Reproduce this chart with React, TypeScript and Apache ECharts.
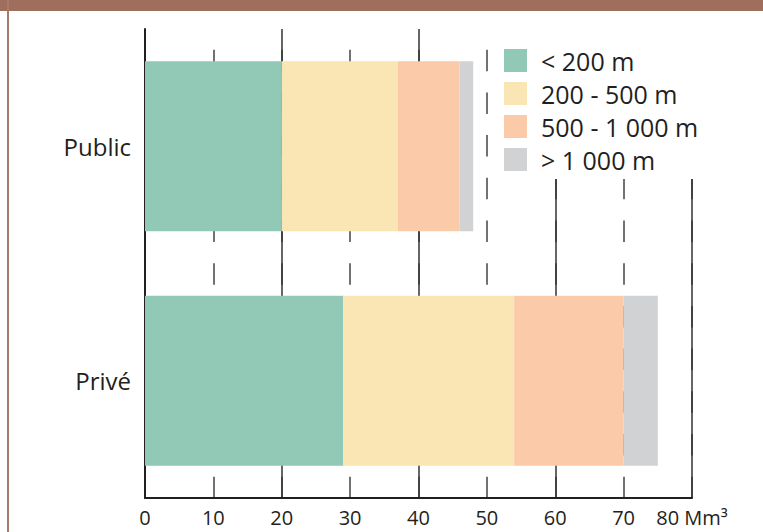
import React, { useEffect, useRef } from "react";
import * as echarts from "echarts";

const categories = ["Public", "Privé"];
const seriesNames = ["< 200 m", "200 - 500 m", "500 - 1 000 m", "> 1 000 m"];
const lt200 = [20, 29];
const s200to500 = [17, 25];
const s500to1000 = [9, 16];
const gt1000 = [2, 5];
const colors = ["#91C9B6", "#FAE6B4", "#FBCAA8", "#D1D2D4"];
const FONT = "'Open Sans', 'Noto Sans', sans-serif";

export default function App() {
  const ref = useRef<HTMLDivElement>(null);
  useEffect(() => {
    if (!ref.current) return;
    const chart = echarts.init(ref.current, null, { renderer: "svg" });
    const values = [lt200, s200to500, s500to1000, gt1000];
    chart.setOption({
      animation: false,
      backgroundColor: "#ffffff",
      textStyle: { fontFamily: FONT },
      grid: { left: 145, right: 71, top: 29, bottom: 34, containLabel: false },
      graphic: [
        { type: "rect", left: 0, top: 0, shape: { width: 763, height: 11 }, style: { fill: "#A06E5C" }, z: 10 },
        { type: "rect", left: 7, top: 0, shape: { width: 2, height: 532 }, style: { fill: "#A87A68" }, z: 10 },
      ],
      legend: {
        orient: "vertical",
        left: 495,
        top: 29,
        padding: [19, 10, 7, 9],
        backgroundColor: "#ffffff",
        itemWidth: 23,
        itemHeight: 23,
        itemGap: 8,
        icon: "rect",
        data: seriesNames,
        textStyle: { fontSize: 25, lineHeight: 23, color: "#231f20", fontFamily: FONT, padding: [0, 0, 0, 9] },
      },
      xAxis: [
        {
          type: "value",
          position: "bottom",
          min: 0,
          max: 80,
          interval: 10,
          axisLine: { show: true, lineStyle: { color: "#231f20", width: 2 } },
          axisTick: { show: false },
          axisLabel: {
            fontSize: 20,
            color: "#231f20",
            margin: 9,
            fontFamily: FONT,
            formatter: (v: number) => (v === 80 ? "80 Mm³" : String(v)),
          },
          splitLine: {
            show: true,
            lineStyle: { color: "#444444", width: 1.5, type: [21.5, 21.2], dashOffset: 21.5 },
          },
        },
        {
          type: "value",
          position: "top",
          min: 0,
          max: 80,
          interval: 20,
          axisLine: { show: false },
          axisTick: { show: false },
          axisLabel: { show: false },
          splitLine: { show: true, lineStyle: { color: "#333333", width: 1.5, type: "solid" } },
        },
      ],
      yAxis: {
        type: "category",
        inverse: true,
        data: categories,
        axisLine: { show: true, lineStyle: { color: "#231f20", width: 2 } },
        axisTick: { show: false },
        axisLabel: { fontSize: 24, color: "#231f20", margin: 14, fontFamily: FONT },
        splitLine: { show: false },
      },
      series: seriesNames.map((name, i) => ({
        name,
        type: "bar",
        stack: "total",
        xAxisIndex: 0,
        barWidth: 170,
        itemStyle: { color: colors[i] },
        emphasis: { disabled: true },
        data: values[i],
      })),
    });
    return () => chart.dispose();
  }, []);
  return (
    <div
      ref={ref}
      style={{ position: "fixed", left: 0, top: 0, width: 763, height: 532 }}
    />
  );
}
